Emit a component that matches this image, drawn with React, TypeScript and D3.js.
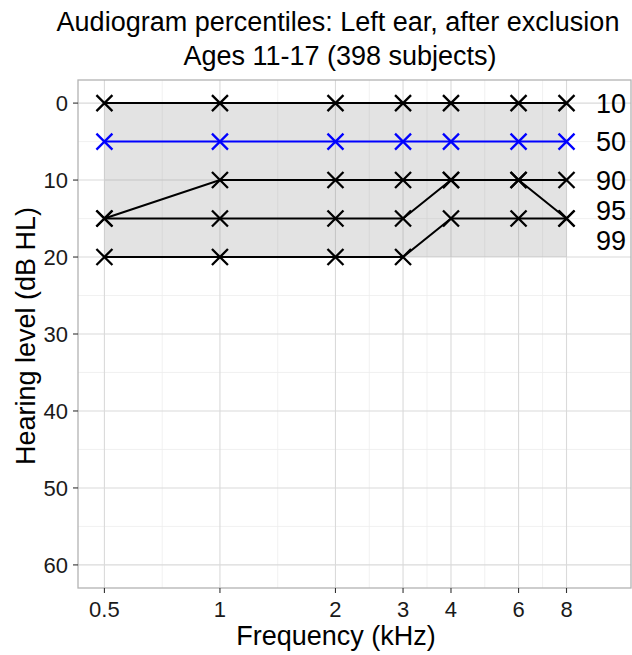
import React from "react";
import * as d3 from "d3";

const frequencies = [0.5, 1, 2, 3, 4, 6, 8];
const percentileNames = ["10", "50", "90", "95", "99"];
const p10 = [0, 0, 0, 0, 0, 0, 0];
const p50 = [5, 5, 5, 5, 5, 5, 5];
const p90 = [15, 10, 10, 10, 10, 10, 10];
const p95 = [15, 15, 15, 15, 10, 10, 15];
const p99 = [20, 20, 20, 20, 15, 15, 15];
const seriesColors = ["black", "blue", "black", "black", "black"];
// label positions (dB) after repelling the overlapping ones
const labelLevels = [0, 5, 10, 13.9, 17.8];
const labelFreq = 10.45;
const levelTicks = [0, 10, 20, 30, 40, 50, 60];
const levelMinor = [5, 15, 25, 35, 45, 55];
const normalBand = { f0: 0.5, f1: 8, l0: 0, l1: 20 };

const W = 632;
const H = 655;
const panel = { left: 78, right: 631, top: 80, bottom: 588 };
const font = "'Liberation Sans', Arial, sans-serif";

export default function App() {
  const x = d3
    .scaleLog()
    .domain([0.4267, 11.78])
    .range([panel.left, panel.right]);
  const y = d3.scaleLinear().domain([-3, 63]).range([panel.top, panel.bottom]);

  // ggplot-style minor breaks: midpoints in log space
  const freqMinor = d3.pairs(frequencies).map(([a, b]) => Math.sqrt(a * b));

  const series = [p10, p50, p90, p95, p99];
  const line = d3
    .line<number>()
    .x((_, i) => x(frequencies[i]))
    .y(d => y(d));

  const m = 8; // half-size of the X marker

  return (
    <svg width={W} height={H} style={{ position: "absolute", left: 0, top: 0 }} fontFamily={font}>
      <rect x={0} y={0} width={W} height={H} fill="white" />
      {/* grid */}
      <g>
        {levelMinor.map(v => (
          <line key={"ym" + v} x1={panel.left} x2={panel.right} y1={y(v)} y2={y(v)} stroke="#eeeeee" strokeWidth={0.8} />
        ))}
        {freqMinor.map(v => (
          <line key={"xm" + v} y1={panel.top} y2={panel.bottom} x1={x(v)} x2={x(v)} stroke="#eeeeee" strokeWidth={0.8} />
        ))}
        {levelTicks.map(v => (
          <line key={"y" + v} x1={panel.left} x2={panel.right} y1={y(v)} y2={y(v)} stroke="#dadada" strokeWidth={1.1} />
        ))}
        {frequencies.map(v => (
          <line key={"x" + v} y1={panel.top} y2={panel.bottom} x1={x(v)} x2={x(v)} stroke="#dadada" strokeWidth={1.1} />
        ))}
      </g>
      {/* normal-range band */}
      <rect
        x={x(normalBand.f0)}
        y={y(normalBand.l0)}
        width={x(normalBand.f1) - x(normalBand.f0)}
        height={y(normalBand.l1) - y(normalBand.l0)}
        fill="#7f7f7f"
        fillOpacity={0.22}
      />
      {/* panel border */}
      <rect
        x={panel.left}
        y={panel.top}
        width={panel.right - panel.left}
        height={panel.bottom - panel.top}
        fill="none"
        stroke="#b3b3b3"
        strokeWidth={1.3}
      />
      {/* percentile lines and markers */}
      {series.map((s, k) => (
        <g key={percentileNames[k]}>
          <path d={line(s) || ""} fill="none" stroke={seriesColors[k]} strokeWidth={2} />
          {s.map((v, i) => {
            const cx = x(frequencies[i]);
            const cy = y(v);
            return (
              <path
                key={i}
                d={`M${cx - m},${cy - m}L${cx + m},${cy + m}M${cx - m},${cy + m}L${cx + m},${cy - m}`}
                stroke={seriesColors[k]}
                strokeWidth={2.3}
              />
            );
          })}
        </g>
      ))}
      {/* percentile labels */}
      {percentileNames.map((name, k) => (
        <text
          key={"l" + name}
          x={x(labelFreq)}
          y={y(labelLevels[k])}
          dy="0.36em"
          textAnchor="middle"
          fontSize={27}
          fill="black"
        >
          {name}
        </text>
      ))}
      {/* y axis */}
      {levelTicks.map(v => (
        <g key={"yt" + v}>
          <line x1={panel.left - 5} x2={panel.left} y1={y(v)} y2={y(v)} stroke="#333" strokeWidth={1.1} />
          <text x={panel.left - 10} y={y(v)} dy="0.36em" textAnchor="end" fontSize={22} fill="#1a1a1a">
            {v}
          </text>
        </g>
      ))}
      {/* x axis */}
      {frequencies.map(v => (
        <g key={"xt" + v}>
          <line y1={panel.bottom} y2={panel.bottom + 5} x1={x(v)} x2={x(v)} stroke="#333" strokeWidth={1.1} />
          <text x={x(v)} y={617} textAnchor="middle" fontSize={22} fill="#1a1a1a">
            {v}
          </text>
        </g>
      ))}
      <text x={336} y={645} textAnchor="middle" fontSize={27} fill="black">
        Frequency (kHz)
      </text>
      <text
        transform={`translate(35,${336}) rotate(-90)`}
        textAnchor="middle"
        fontSize={27}
        fill="black"
      >
        Hearing level (dB HL)
      </text>
      <text x={338} y={31} textAnchor="middle" fontSize={27} fill="black">
        Audiogram percentiles: Left ear, after exclusion
      </text>
      <text x={340} y={65} textAnchor="middle" fontSize={27} fill="black">
        Ages 11-17 (398 subjects)
      </text>
    </svg>
  );
}
